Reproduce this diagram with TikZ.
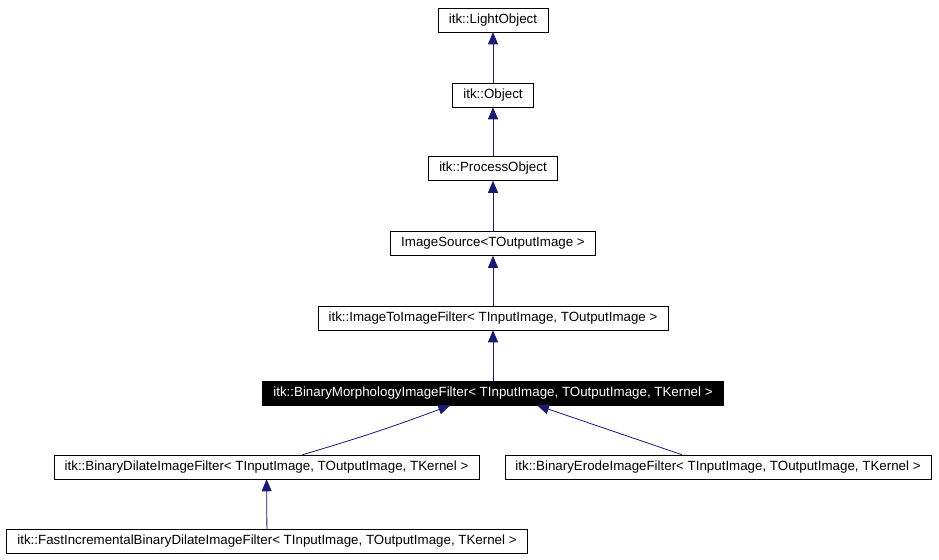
\documentclass[tikz,border=0pt]{standalone}
\usepackage{fontspec}
\setmainfont{Liberation Sans}
\usetikzlibrary{arrows.meta}
\definecolor{edgeblue}{HTML}{191970}

\tikzset{
    cls/.style={draw=black, fill=white, font=\fontsize{10}{12}\selectfont, inner xsep=8pt, inner ysep=0pt, minimum height=18pt},
    current/.style={cls, fill=black, text=white},
    inherit/.style={edgeblue, line width=0.6pt, -{Triangle[length=9pt, width=7.5pt]}}
}

\begin{document}
\begin{tikzpicture}[x=0.75pt, y=-0.75pt]
    \useasboundingbox (0,0) rectangle (939,560);

    % base classes
    \node[cls] (lightobject) at (493,20) {itk::LightObject};
    \node[cls] (object) at (493,95) {itk::Object};
    \node[cls] (processobject) at (493,168.5) {itk::ProcessObject};
    \node[cls] (imagesource) at (493,243.5) {ImageSource{\textless}TOutputImage \textgreater};
    \node[cls] (imagetoimage) at (493,318) {itk::ImageToImageFilter{\textless} TInputImage, TOutputImage \textgreater};

    % this class
    \node[current] (morphology) at (493,393) {itk::BinaryMorphologyImageFilter{\textless} TInputImage, TOutputImage, TKernel \textgreater};

    % derived classes
    \node[cls] (dilate) at (266.5,467) {itk::BinaryDilateImageFilter{\textless} TInputImage, TOutputImage, TKernel \textgreater};
    \node[cls] (erode) at (718,467) {itk::BinaryErodeImageFilter{\textless} TInputImage, TOutputImage, TKernel \textgreater};
    \node[cls] (fastdilate) at (267,541.5) {itk::FastIncrementalBinaryDilateImageFilter{\textless} TInputImage, TOutputImage, TKernel \textgreater};

    % inheritance
    \draw[inherit] (object) -- (lightobject);
    \draw[inherit] (processobject) -- (object);
    \draw[inherit] (imagesource) -- (processobject);
    \draw[inherit] (imagetoimage) -- (imagesource);
    \draw[inherit] (morphology) -- (imagetoimage);
    \draw[inherit] ([xshift=27pt]dilate.north) to[bend right=2] ([xshift=-32pt]morphology.south);
    \draw[inherit] ([xshift=-27pt]erode.north) -- ([xshift=33pt]morphology.south);
    \draw[inherit] (fastdilate) -- (dilate);
\end{tikzpicture}
\end{document}
